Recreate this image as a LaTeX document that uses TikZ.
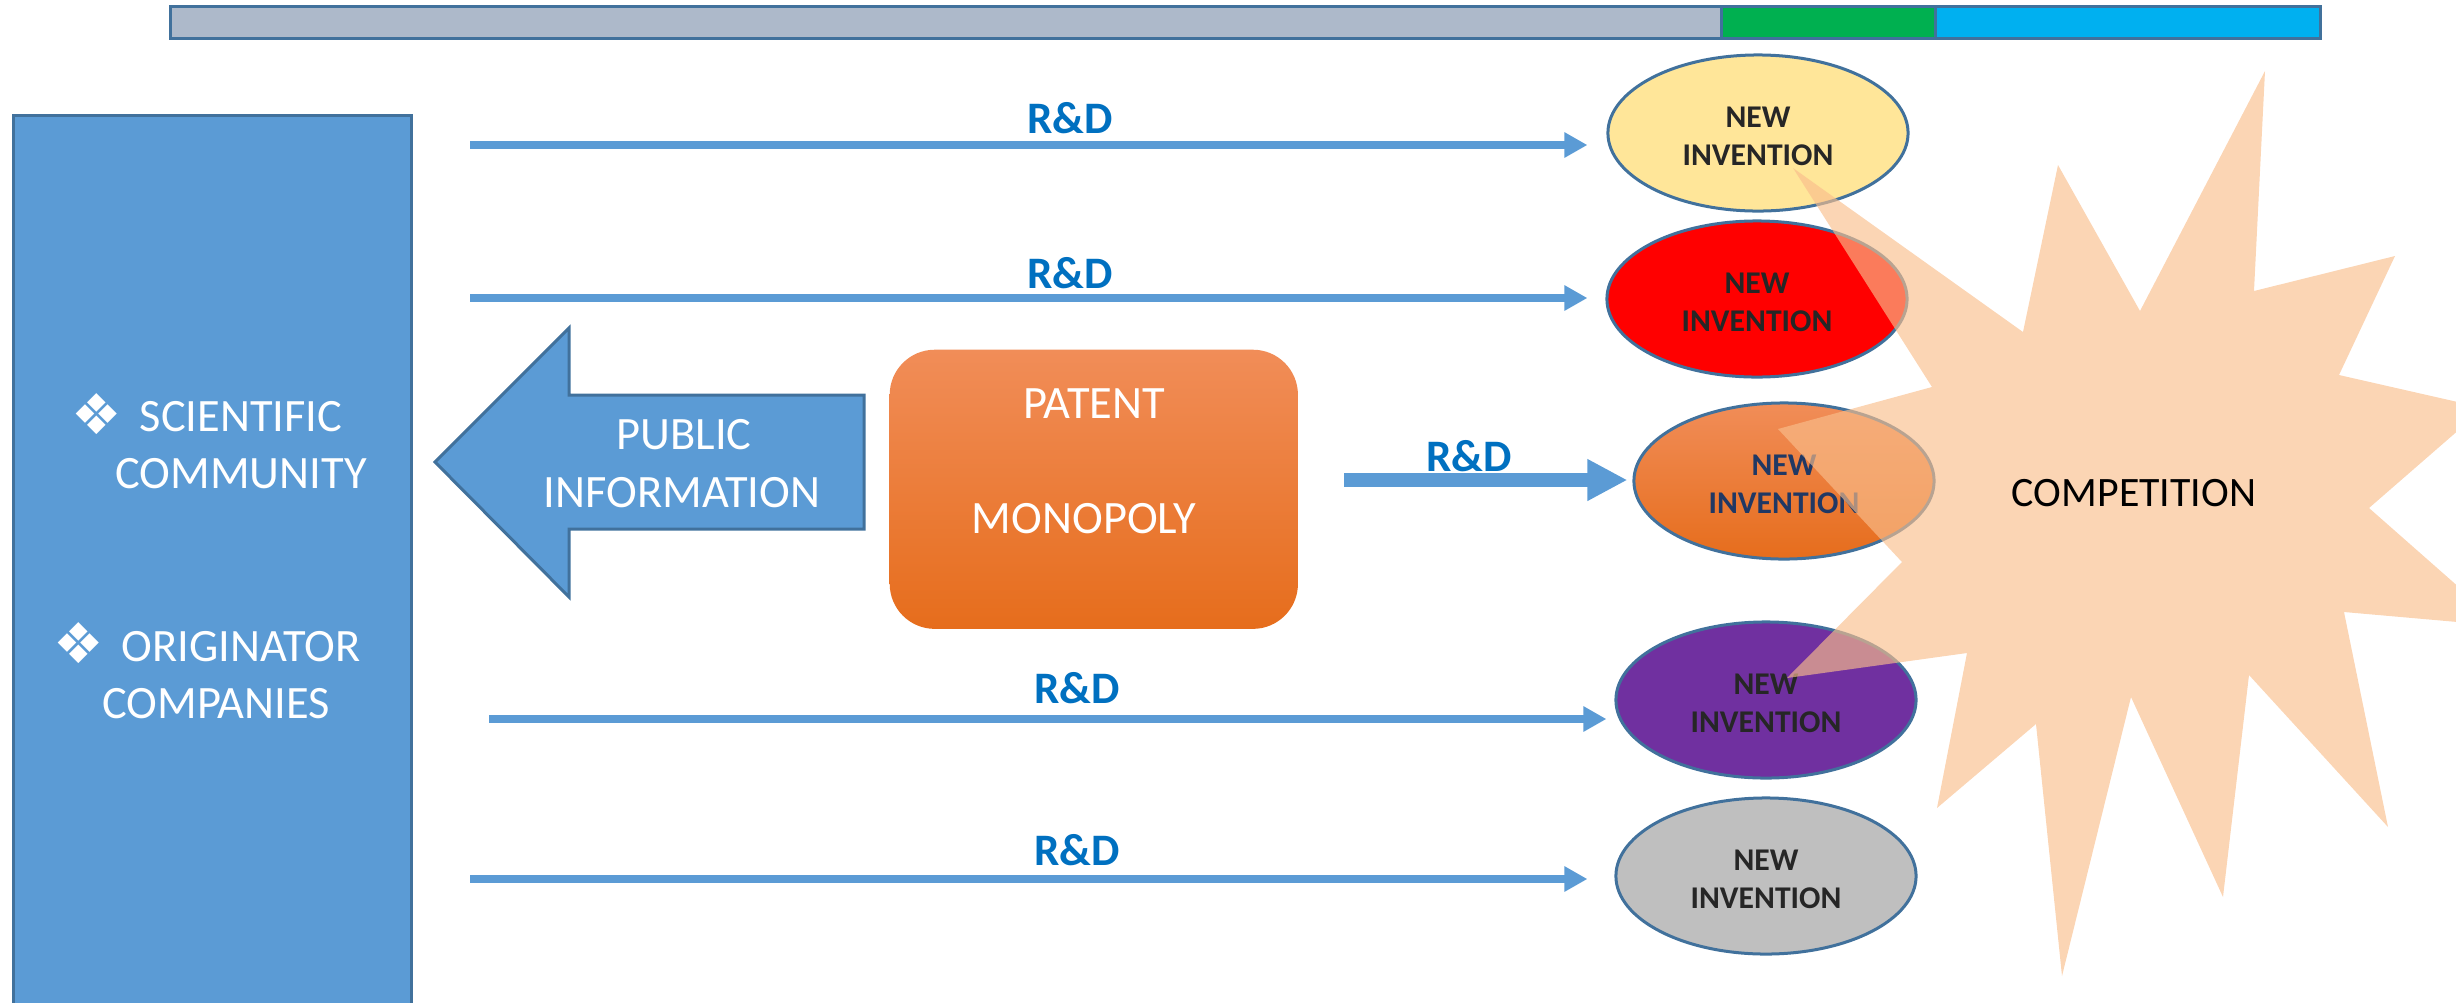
\documentclass[tikz,border=0pt]{standalone}
\usepackage{fontspec}
\setmainfont{Carlito}
\newfontfamily\djv{DejaVu Sans}
\usetikzlibrary{shapes.geometric,arrows.meta}
\definecolor{blueF}{HTML}{5B9BD5}
\definecolor{blueD}{HTML}{41719C}
\definecolor{rdblue}{HTML}{0070C0}
\definecolor{barGray}{HTML}{ADB9CA}
\definecolor{barGreen}{HTML}{00B050}
\definecolor{barCyan}{HTML}{00B0F0}
\definecolor{ellYellow}{HTML}{FFE699}
\definecolor{ellRed}{HTML}{FF0000}
\definecolor{ellPurple}{HTML}{7030A0}
\definecolor{ellGray}{HTML}{BFBFBF}
\definecolor{txtdark}{HTML}{262626}
\definecolor{txtnavy}{HTML}{203864}
\definecolor{patTop}{HTML}{F18D58}
\definecolor{patMid}{HTML}{F47E30}
\definecolor{patBot}{HTML}{E66D1C}
\definecolor{starC}{RGB}{249,190,140}
\begin{document}
\begin{tikzpicture}[x=0.01cm,y=-0.01cm,
  rdline/.style={draw=blueF, line width=0.08cm, -{Triangle[length=0.23cm,width=0.24cm]}},
  rdthick/.style={draw=blueF, line width=0.14cm, -{Triangle[length=0.40cm,width=0.39cm]}},
  rdlabel/.style={text=rdblue, font=\fontsize{12.8pt}{15pt}\selectfont\bfseries, anchor=base, inner sep=0pt},
  inv/.style={ellipse, draw=blueD, line width=0.03cm, minimum width=3cm, minimum height=1.56cm, inner sep=0pt},
  invtext/.style={inner sep=0pt, align=center, text=txtdark, font=\fontsize{9pt}{10.9pt}\selectfont\bfseries},
  wtext/.style={text=white, font=\fontsize{13.2pt}{16pt}\selectfont, anchor=base, inner sep=0pt},
  bul/.style={text=white, font=\djv\fontsize{16pt}{18pt}\selectfont, inner sep=0pt},
  barseg/.style={draw=blueD, line width=0.03cm},
  shapeblue/.style={draw=blueD, fill=blueF, line width=0.03cm}
]
\useasboundingbox (0,0) rectangle (2456,1002);

% top bar
\draw[barseg, fill=barGray] (170,6) rectangle (1721,38);
\draw[barseg, fill=barGreen] (1721,6) rectangle (1935,38);
\draw[barseg, fill=barCyan] (1935,6) rectangle (2320,38);

% left community box
\node[shapeblue, anchor=north west, minimum width=3.98cm, minimum height=9.3cm, inner sep=0pt] (comm) at (12,114) {};
\node[bul] (b1) at (97,414) {❖};
\node[wtext] (t1) at (241,431) {SCIENTIFIC};
\node[wtext] (t2) at (241,488) {COMMUNITY};
\node[bul] (b2) at (79,643) {❖};
\node[wtext] (t3) at (241,661) {ORIGINATOR};
\node[wtext] (t4) at (216,718) {COMPANIES};

% public information arrow
\draw[shapeblue] (435,462) -- (569,328) -- (569,395) -- (864,395) -- (864,529) -- (569,529) -- (569,597) -- cycle;
\node[wtext] (p1) at (684,449) {PUBLIC};
\node[wtext] (p2) at (682,507) {INFORMATION};

% patent box
\node[anchor=north west, rounded corners=0.45cm, top color=patTop, middle color=patMid, bottom color=patBot, minimum width=4.08cm, minimum height=2.79cm, inner sep=0pt] (patent) at (889,349) {};
\node[wtext] (pt1) at (1094,418) {PATENT};
\node[wtext] (pt2) at (1084,533) {MONOPOLY};

% inventions
\node[inv, fill=ellYellow] (e1) at (1758,133) {};
\node[inv, fill=ellRed] (e2) at (1757,299) {};
\node[inv, top color=patTop, middle color=patMid, bottom color=patBot] (e3) at (1784,481) {};
\node[inv, fill=ellPurple] (e4) at (1766,700) {};
\node[inv, fill=ellGray] (e5) at (1766,876) {};
\node[invtext] (e1t) at ([yshift=-0.03cm]e1.center) {NEW\\INVENTION};
\node[invtext] (e2t) at ([yshift=-0.03cm]e2.center) {NEW\\INVENTION};
\node[invtext, text=txtnavy] (e3t) at ([yshift=-0.03cm]e3.center) {NEW\\INVENTION};
\node[invtext] (e4t) at ([yshift=-0.03cm]e4.center) {NEW\\INVENTION};
\node[invtext] (e5t) at ([yshift=-0.03cm]e5.center) {NEW\\INVENTION};

% R&D arrows
\coordinate (s1) at (470,145);
\coordinate (s2) at (470,298);
\coordinate (s3) at (1344,480);
\coordinate (s4) at (489,719);
\coordinate (s5) at (470,879);
\draw[rdline, shorten >=0.19cm] (s1) -- (s1 -| e1.west);
\draw[rdline, shorten >=0.18cm] (s2) -- (s2 -| e2.west);
\draw[rdthick, shorten >=0.05cm] (s3) -- (s3 -| e3.west);
\draw[rdline, shorten >=0.08cm] (s4) -- (s4 -| e4.west);
\draw[rdline, shorten >=0.27cm] (s5) -- (s5 -| e5.west);
\node[rdlabel] (l1) at (1070,133.5) {R\&D};
\node[rdlabel] (l2) at (1070,288) {R\&D};
\node[rdlabel] (l3) at (1469,471) {R\&D};
\node[rdlabel] (l4) at (1077,703.5) {R\&D};
\node[rdlabel] (l5) at (1077,865) {R\&D};

% competition star
\fill[starC, fill opacity=0.65] (1793,168) -- (2023,332) -- (2058,165) -- (2140,311) -- (2265,71) -- (2254,291) -- (2395,256) -- (2339,375) -- (2484,408) -- (2369,508) -- (2503,626) -- (2344,612) -- (2388,827) -- (2249,675) -- (2223,897) -- (2131,697) -- (2062,976) -- (2036,724) -- (1937,808) -- (1967,653) -- (1787,678) -- (1902,562) -- (1778,429) -- (1932,387) -- cycle;
\node[font=\fontsize{11.9pt}{14pt}\selectfont, text=black, anchor=base, inner sep=0pt] (comp) at (2134,506.5) {COMPETITION};
\end{tikzpicture}
\end{document}
